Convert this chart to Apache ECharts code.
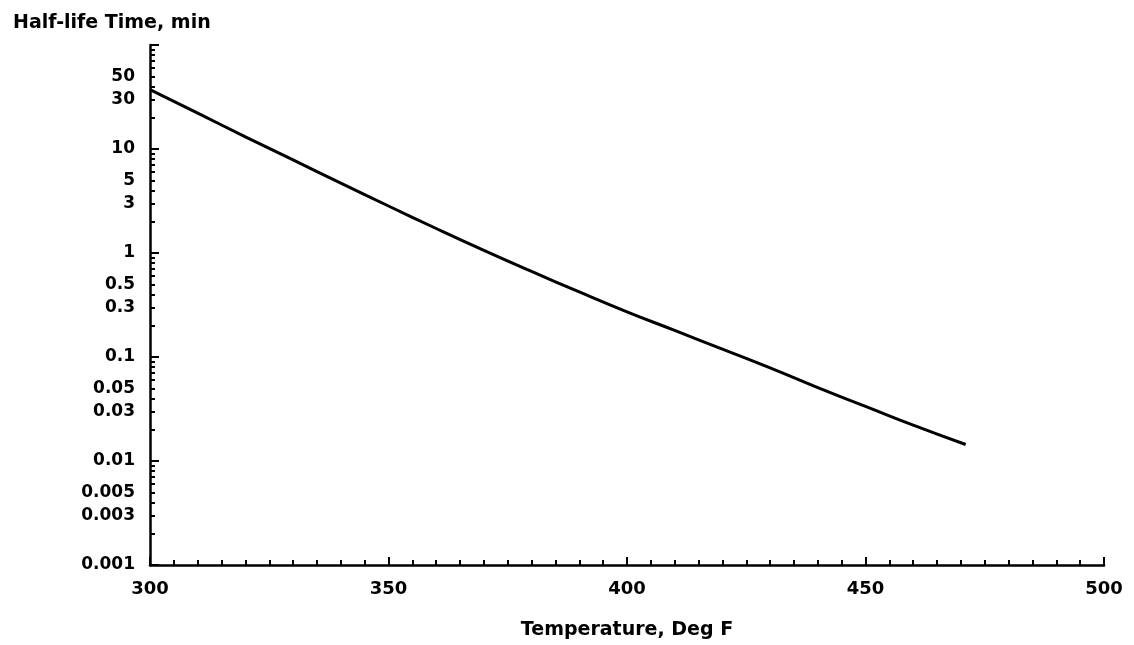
<!DOCTYPE html>
<html>
<head>
<meta charset="utf-8">
<script src="https://cdn.jsdelivr.net/npm/echarts@6/dist/echarts.min.js"></script>
<style>
  html, body { margin: 0; background: #fff; }
  #chart { width: 1134px; height: 645px; }
</style>
</head>
<body>
<div id="chart"></div>
<script>
// values
const temps = [300, 310, 320, 330, 340, 350, 360, 370, 380, 390, 400, 410, 420, 430, 440, 450, 460, 471]
const halfLife = [37.2, 22.1, 13.1, 7.85, 4.7, 2.83, 1.72, 1.06, 0.664, 0.422, 0.272, 0.18, 0.119, 0.0785, 0.0507, 0.0335, 0.0221, 0.0144]

const xTicks = [300, 350, 400, 450, 500]
const yLabels = [0.001, 0.003, 0.005, 0.01, 0.03, 0.05, 0.1, 0.3, 0.5, 1, 3, 5, 10, 30, 50]
const yDecades = [0.001, 0.01, 0.1, 1, 10, 100]

const yMinor = []
yDecades.slice(0, -1).forEach(d => {
  for (let k = 2; k <= 9; k++) yMinor.push(Number((d * k).toPrecision(3)))
})

const font = { fontFamily: 'DejaVu Sans', fontWeight: 'bold', fontSize: 17, color: '#000' }
const axisLine = { show: true, lineStyle: { color: '#000', width: 2.5 } }

const chart = echarts.init(document.getElementById('chart'))
chart.setOption({
  animation: false,
  backgroundColor: '#fff',
  title: {
    text: 'Half-life Time, min',
    left: 8, top: 9,
    textStyle: Object.assign({}, font, { fontSize: 19 })
  },
  grid: { left: 150, right: 30, top: 45, bottom: 78 },
  xAxis: {
    type: 'value',
    min: 300, max: 500, interval: 50,
    name: 'Temperature, Deg F',
    nameLocation: 'middle',
    nameGap: 56,
    nameTextStyle: Object.assign({}, font, { fontSize: 19 }),
    axisLine: axisLine,
    axisTick: { show: true, inside: true, length: 8, lineStyle: { color: '#000', width: 2 } },
    minorTick: { show: true, splitNumber: 10, length: 5, lineStyle: { color: '#000', width: 2 } },
    axisLabel: Object.assign({ margin: 15, customValues: xTicks }, font, { fontSize: 18 }),
    splitLine: { show: false },
    minorSplitLine: { show: false }
  },
  yAxis: [{
    type: 'log',
    min: 0.001, max: 100,
    axisLine: axisLine,
    axisTick: { show: true, inside: true, length: 9, customValues: yDecades, lineStyle: { color: '#000', width: 2 } },
    axisLabel: Object.assign({ margin: 15, customValues: yLabels, formatter: v => String(v) }, font),
    splitLine: { show: false }
  }, {
    type: 'log',
    min: 0.001, max: 100,
    position: 'left',
    axisLine: { show: false },
    axisTick: { show: true, inside: true, length: 5, customValues: yMinor, lineStyle: { color: '#000', width: 2 } },
    axisLabel: { show: false },
    splitLine: { show: false }
  }],
  series: [{
    type: 'line',
    yAxisIndex: 0,
    data: temps.map((t, i) => [t, halfLife[i]]),
    showSymbol: false,
    smooth: true,
    lineStyle: { color: '#000', width: 3 }
  }]
})
</script>
</body>
</html>
